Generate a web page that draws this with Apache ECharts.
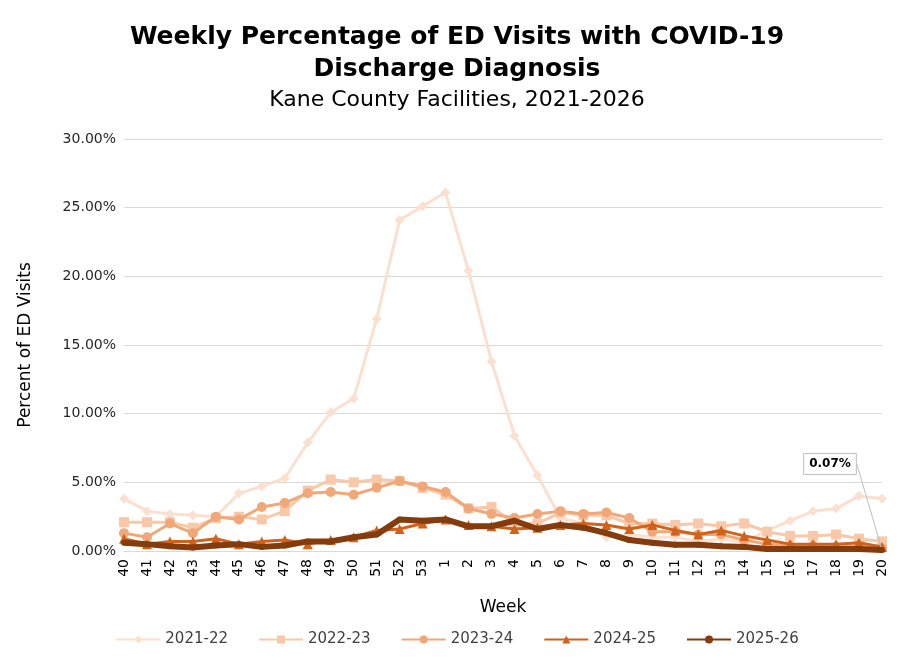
<!DOCTYPE html>
<html>
<head>
<meta charset="UTF-8">
<script src="https://cdn.jsdelivr.net/npm/echarts@6/dist/echarts.min.js"></script>
<style>html,body{margin:0;background:#fff}#main{width:914px;height:666px}</style>
</head>
<body>
<div id="main"></div>
<script>
// week labels
var weeks = ['40','41','42','43','44','45','46','47','48','49','50','51','52','53','1','2','3','4','5','6','7','8','9','10','11','12','13','14','15','16','17','18','19','20'];
var s2122 = [3.8,2.9,2.7,2.6,2.5,4.2,4.7,5.3,7.9,10.1,11.1,16.9,24.1,25.1,26.1,20.4,13.8,8.4,5.5,2.4,2.0,1.0,1.2,1.0,1.0,0.7,0.9,0.6,1.5,2.2,2.9,3.1,4.0,3.8];
var s2223 = [2.1,2.1,2.1,1.7,2.4,2.5,2.3,2.9,4.4,5.2,5.0,5.2,5.1,4.6,4.1,3.1,3.2,2.0,2.0,2.8,2.6,2.6,2.0,2.0,1.9,2.0,1.8,2.0,1.4,1.1,1.1,1.2,0.9,0.7];
var s2324 = [1.3,1.0,2.0,1.3,2.5,2.3,3.2,3.5,4.2,4.3,4.1,4.6,5.1,4.7,4.3,3.1,2.7,2.4,2.7,2.9,2.7,2.8,2.4,1.4,1.4,1.2,1.2,0.8,0.5,0.4,0.4,0.3,0.4,0.2];
var s2425 = [0.9,0.5,0.7,0.7,0.9,0.5,0.7,0.8,0.5,0.8,1.0,1.5,1.6,2.0,2.3,1.9,1.8,1.6,1.7,1.9,2.0,1.9,1.6,1.9,1.5,1.2,1.5,1.1,0.8,0.5,0.5,0.5,0.6,0.3];
var s2526 = [0.6,0.5,0.35,0.25,0.4,0.5,0.3,0.4,0.7,0.7,1.0,1.2,2.3,2.2,2.3,1.8,1.8,2.2,1.6,1.9,1.7,1.3,0.8,0.6,0.45,0.45,0.35,0.3,0.15,0.15,0.15,0.15,0.15,0.07];

var seasons = ['2021-22','2022-23','2023-24','2024-25','2025-26'];
var colors = ['#fbe0d0','#f8c8a8','#f0a878','#d0621c','#843c0c'];
var symbols = ['diamond','rect','circle','triangle','circle'];
var values = [s2122, s2223, s2324, s2425, s2526];

var chart = echarts.init(document.getElementById('main'));
var font = 'Verdana, DejaVu Sans, sans-serif';

var series = values.map(function (v, i) {
  var last = i === 4;
  var s = {
    name: seasons[i],
    type: 'line',
    data: v.map(function (y, j) {
      if (last && j === v.length - 1) {
        return {
          value: y,
          label: {
            show: true, position: 'top', formatter: y.toFixed(2) + '%', fontWeight: 'bold', fontSize: 12,
            fontFamily: font, color: '#000', backgroundColor: '#fff',
            borderColor: '#bfbfbf', borderWidth: 1, padding: [4, 5]
          },
          labelLine: { show: true, lineStyle: { color: '#bfbfbf' } }
        };
      }
      return y;
    }),
    symbol: symbols[i],
    symbolSize: last ? 6 : 10,
    showAllSymbol: true,
    color: colors[i],
    lineStyle: { width: last ? 6 : 3, color: colors[i] },
    itemStyle: { color: colors[i] },
    z: i + 2
  };
  if (last) {
    s.labelLayout = { dx: -52, dy: -68 };
  }
  return s;
});

chart.setOption({
  animation: false,
  backgroundColor: '#fff',
  title: [
    { text: 'Weekly Percentage of ED Visits with COVID-19\nDischarge Diagnosis', left: 'center', top: 16,
      textStyle: { fontFamily: font, fontSize: 25, fontWeight: 'bold', color: '#000', lineHeight: 32 } },
    { text: 'Kane County Facilities, 2021-2026', left: 'center', top: 84,
      textStyle: { fontFamily: font, fontSize: 22, fontWeight: 'normal', color: '#000' } }
  ],
  legend: {
    bottom: 14, left: 'center', itemGap: 30, itemWidth: 44, itemHeight: 10,
    textStyle: { fontFamily: font, fontSize: 15, color: '#404040' },
    data: seasons
  },
  grid: { left: 124, right: 32, top: 139, bottom: 115 },
  xAxis: {
    type: 'category', data: weeks, boundaryGap: false,
    name: 'Week', nameLocation: 'middle', nameGap: 48,
    nameTextStyle: { fontFamily: font, fontSize: 17, color: '#000' },
    axisLine: { lineStyle: { color: '#d9d9d9' } },
    axisTick: { show: false },
    axisLabel: { rotate: 90, interval: 0, fontFamily: font, fontSize: 14, color: '#000', margin: 8 }
  },
  yAxis: {
    type: 'value', min: 0, max: 30, interval: 5,
    name: 'Percent of ED Visits', nameLocation: 'middle', nameGap: 90,
    nameTextStyle: { fontFamily: font, fontSize: 17, color: '#000' },
    axisLabel: { formatter: function (v) { return v.toFixed(2) + '%'; }, fontFamily: font, fontSize: 14, color: '#262626' },
    splitLine: { lineStyle: { color: '#d9d9d9' } }
  },
  series: series
});
</script>
</body>
</html>
